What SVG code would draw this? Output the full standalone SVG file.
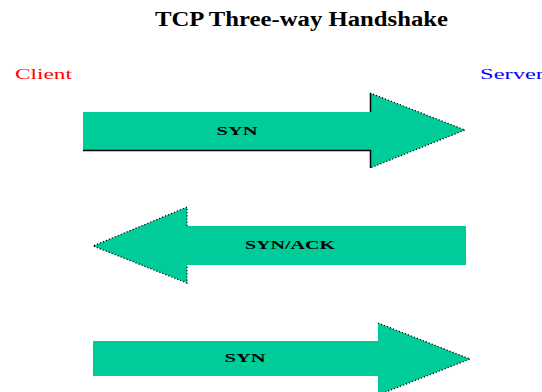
<svg xmlns="http://www.w3.org/2000/svg" width="542" height="392" viewBox="0 0 542 392">
<style>
.arr{fill:#00CC99;stroke:none}
.dot{fill:none;stroke:#000;stroke-width:1.2;stroke-dasharray:1.2 2}
.edge{fill:none;stroke:#000;stroke-width:1.5}
.lbl{font-family:"Liberation Serif",serif;font-weight:bold;font-size:13px;fill:#000;text-anchor:middle}
.side{font-family:"Liberation Serif",serif;font-size:15px}
</style>
<rect width="542" height="392" fill="#fff"/>
<g id="title">
<text x="155" y="26" font-family="Liberation Serif,serif" font-weight="bold" font-size="20" textLength="293" lengthAdjust="spacingAndGlyphs">TCP Three-way Handshake</text>
</g>
<g id="client"><text class="side" x="15" y="79" fill="#ff0000" textLength="57" lengthAdjust="spacingAndGlyphs">Client</text></g>
<g id="server"><text class="side" x="480" y="79" fill="#0000ff" textLength="64" lengthAdjust="spacingAndGlyphs">Server</text></g>
<g id="arrow1">
<polygon class="arr" points="83,112 370,112 370,93 465,130 370,168 370,150 83,150"/>
<path class="edge" d="M83,150.5 H370.5 V168 M370.5,112 V93"/>
<path class="dot" d="M370,93 L465,130 L370,168"/>
<text class="lbl" x="237" y="135" textLength="41" lengthAdjust="spacingAndGlyphs">SYN</text>
</g>
<g id="arrow2">
<polygon class="arr" points="466,226 187,226 187,207 93,246 187,283 187,265 466,265"/>
<path class="dot" d="M187,226 V207 L93,246 L187,283 V265"/>
<text class="lbl" x="290" y="249" textLength="90" lengthAdjust="spacingAndGlyphs">SYN/ACK</text>
</g>
<g id="arrow3">
<polygon class="arr" points="93,341 378,341 378,323 470,359 378,395 378,376 93,376"/>
<path class="dot" d="M378,323 L470,359 L378,395"/>
<text class="lbl" x="245" y="362" textLength="41" lengthAdjust="spacingAndGlyphs">SYN</text>
</g>
</svg>
